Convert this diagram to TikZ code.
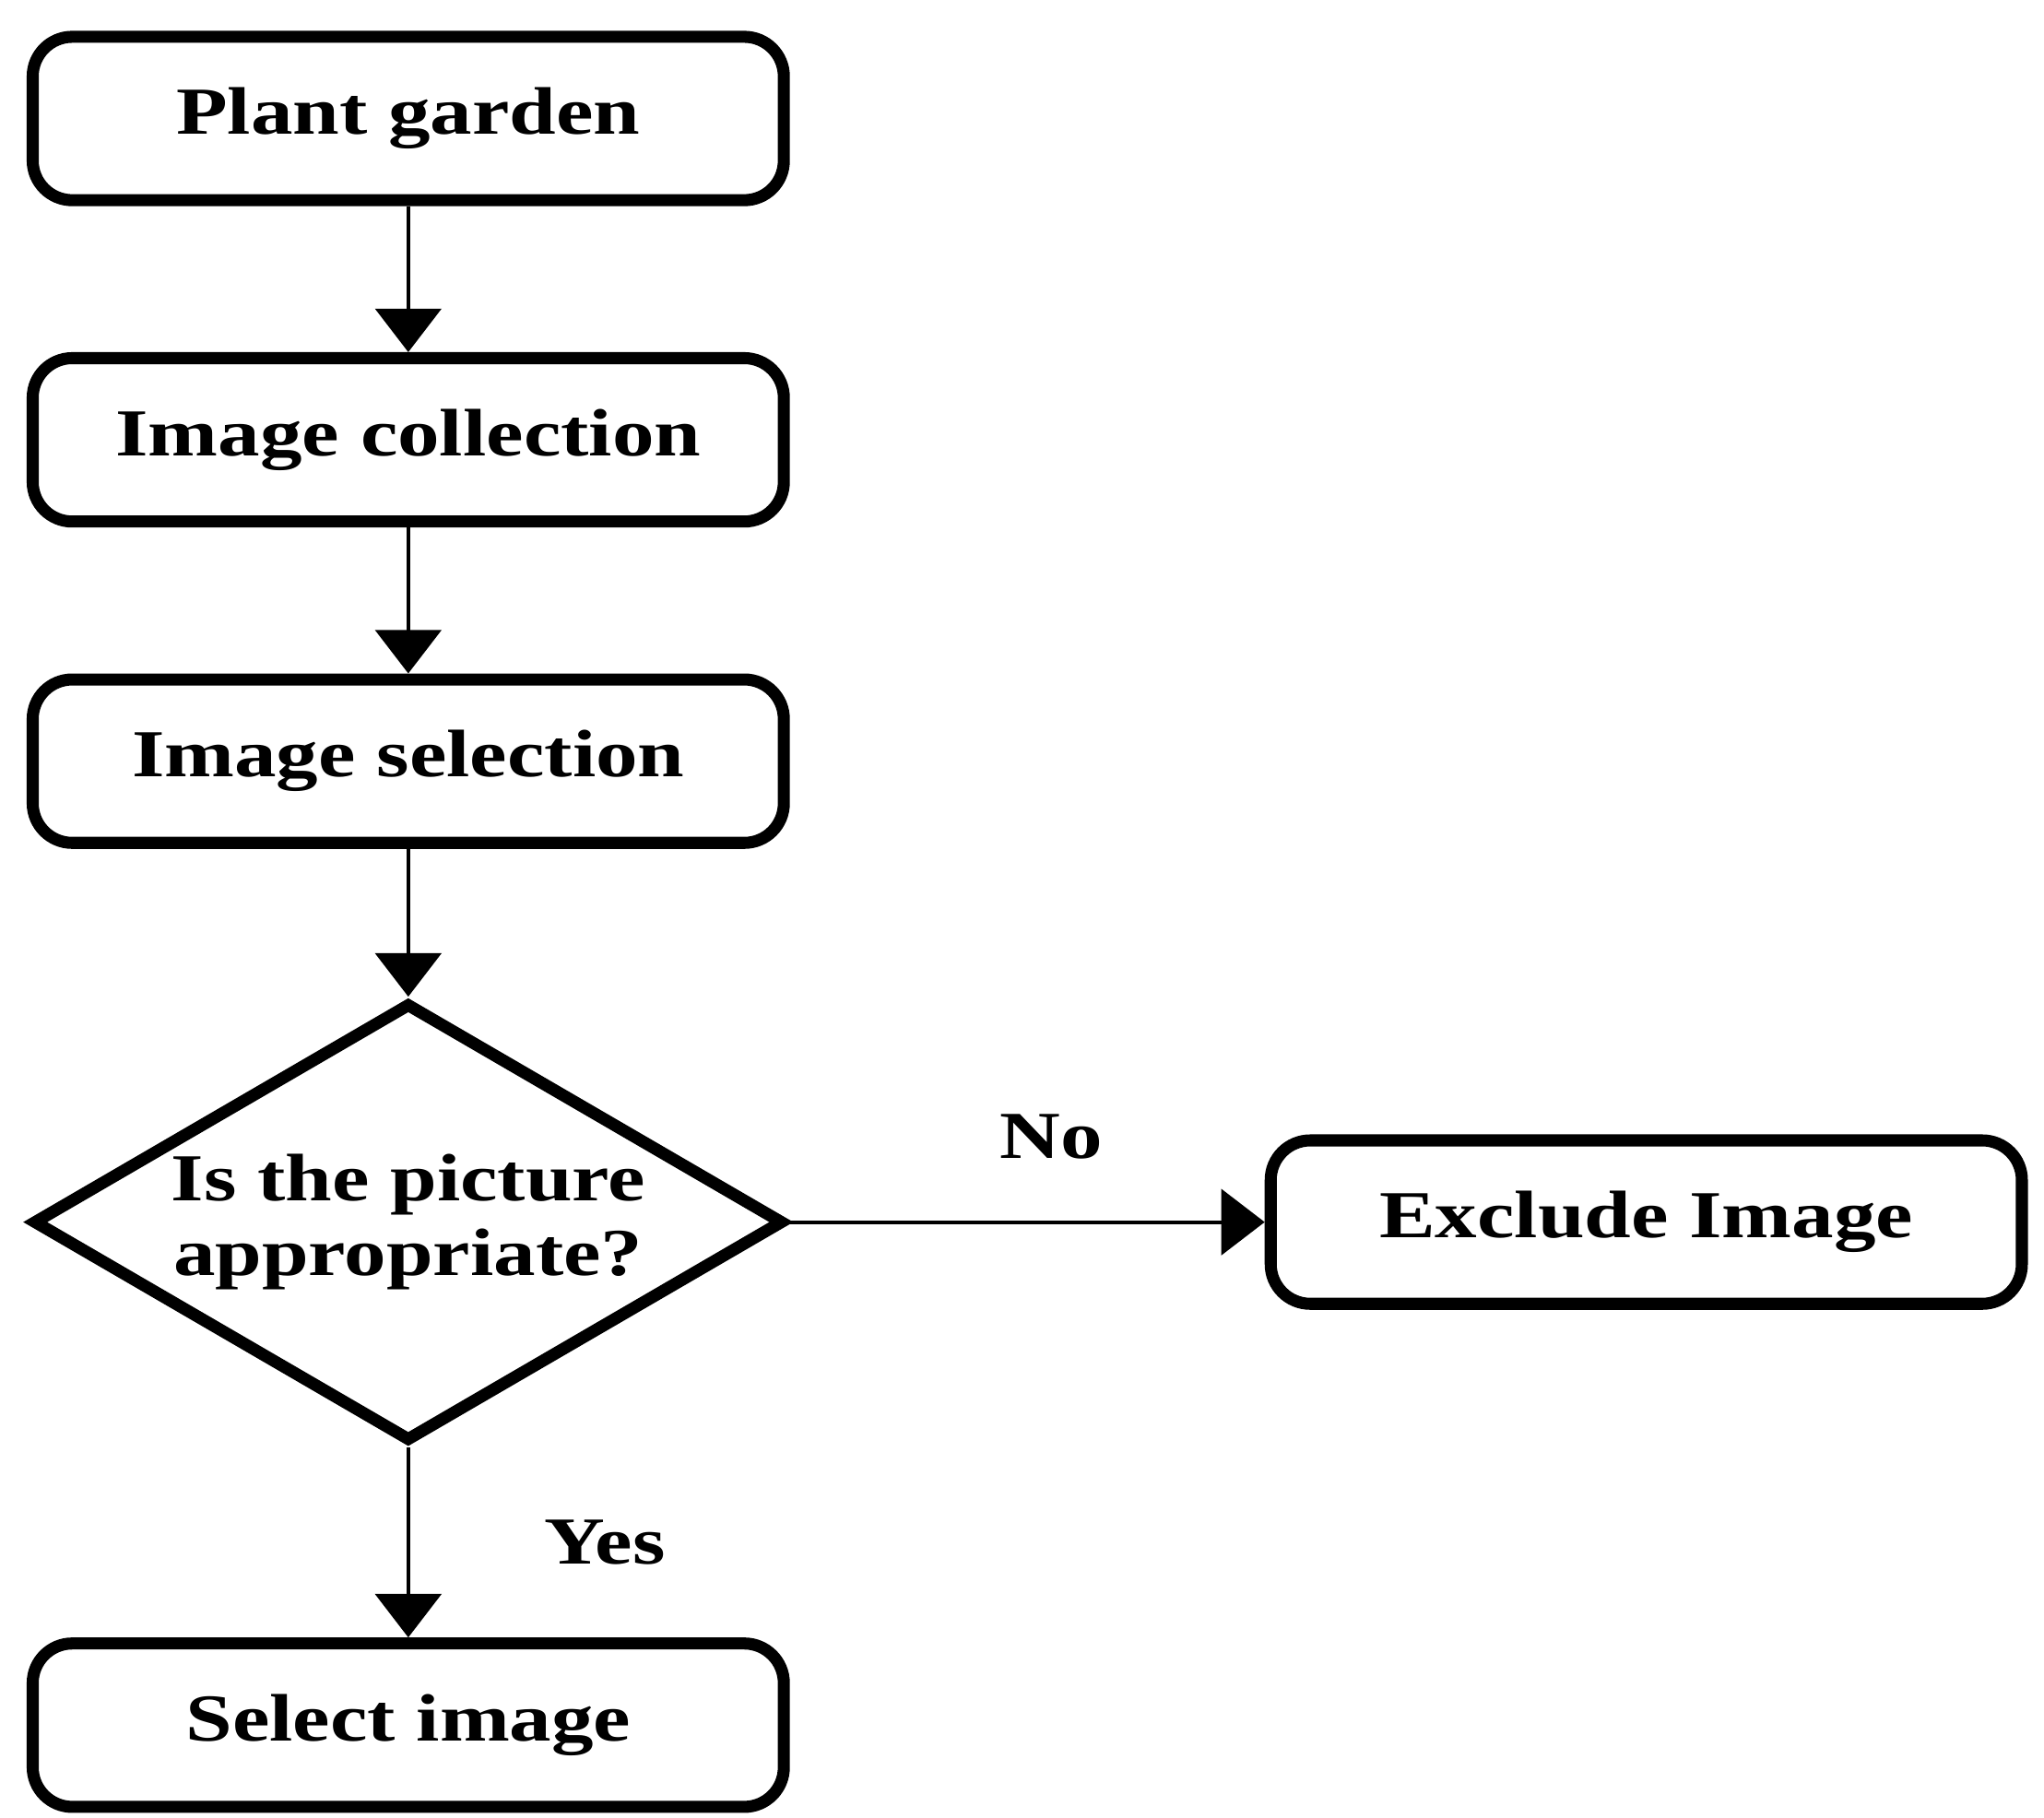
\documentclass[tikz,border=0pt]{standalone}
\usepackage{fontspec}
\setmainfont{Liberation Serif}
\usetikzlibrary{shapes.geometric,arrows.meta}
\begin{document}
\begin{tikzpicture}[x=0.01cm,y=-0.01cm,
  box/.style={draw,line width=2.6pt,rounded corners=0.3cm,minimum width=5.7cm,minimum height=1.24cm,font=\fontsize{14.5}{17}\selectfont\bfseries},
  dia/.style={draw,line width=2.6pt,diamond,aspect=1.71,minimum width=5.7cm,minimum height=3.33cm,inner sep=0pt},
  txt/.style={align=center,font=\fontsize{14.5}{17}\selectfont\bfseries},
  arr/.style={line width=0.8pt,-{Triangle[width=0.5cm,length=0.33cm]}},
  lab/.style={font=\fontsize{14.5}{17}\selectfont\bfseries}]
\useasboundingbox (0,0) rectangle (1552,1380);
\node[box] (a) at (310,90) {\scalebox{1.25}[1]{Plant garden}};
\node[box] (b) at (310,334) {\scalebox{1.25}[1]{Image collection}};
\node[box] (c) at (310,578) {\scalebox{1.25}[1]{Image selection}};
\node[dia] (d) at (310,928) {};
\node[txt] (dt) at (310,928) {\scalebox{1.25}[1]{Is the picture}\\[-1pt]\scalebox{1.25}[1]{appropriate?}};
\node[box] (e) at (1250,928) {\scalebox{1.25}[1]{Exclude Image}};
\node[box] (f) at (310,1310) {\scalebox{1.25}[1]{Select image}};
\draw[arr] (a) -- (b);
\draw[arr] (b) -- (c);
\draw[arr] (c) -- (d);
\draw[arr] (d) -- (e) node[lab,pos=0.55,above=0.35cm] {\scalebox{1.25}[1]{No}};
\draw[arr] (d) -- (f) node[lab,pos=0.5,right=0.9cm] {\scalebox{1.25}[1]{Yes}};
\end{tikzpicture}
\end{document}
